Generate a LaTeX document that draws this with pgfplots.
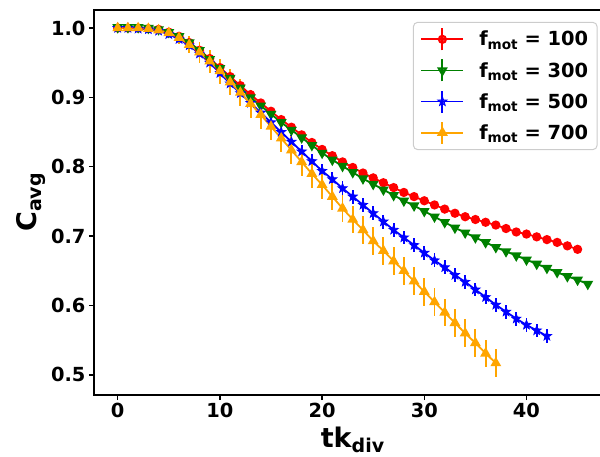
\documentclass[border=0pt]{standalone}
\usepackage{fontspec}
\setmainfont{DejaVu Sans}
\usepackage{pgfplots}
\pgfplotsset{compat=1.18}
\usepackage{pgfplotstable}

\definecolor{mplred}{rgb}{1,0,0}
\definecolor{mplgreen}{rgb}{0,0.5,0}
\definecolor{mplblue}{rgb}{0,0,1}
\definecolor{mplorange}{rgb}{1,0.647,0}

% lowered subscripts for legend entries and axis labels
\newcommand{\lsub}[1]{\raisebox{-3.6pt}{\fontsize{13.6pt}{14pt}\selectfont #1}}
\newcommand{\asub}[1]{\raisebox{-5pt}{\fontsize{19pt}{20pt}\selectfont #1}}

% filled five-pointed star
\pgfdeclareplotmark{fstar}{%
  \pgfpathmoveto{\pgfpointpolar{90}{\pgfplotmarksize}}%
  \pgfpathlineto{\pgfpointpolar{126}{0.42\pgfplotmarksize}}%
  \pgfpathlineto{\pgfpointpolar{162}{\pgfplotmarksize}}%
  \pgfpathlineto{\pgfpointpolar{198}{0.42\pgfplotmarksize}}%
  \pgfpathlineto{\pgfpointpolar{234}{\pgfplotmarksize}}%
  \pgfpathlineto{\pgfpointpolar{270}{0.42\pgfplotmarksize}}%
  \pgfpathlineto{\pgfpointpolar{306}{\pgfplotmarksize}}%
  \pgfpathlineto{\pgfpointpolar{342}{0.42\pgfplotmarksize}}%
  \pgfpathlineto{\pgfpointpolar{18}{\pgfplotmarksize}}%
  \pgfpathlineto{\pgfpointpolar{54}{0.42\pgfplotmarksize}}%
  \pgfpathclose\pgfusepathqfillstroke}

\pgfplotsset{
  ebars/.style={error bars/.cd, y dir=both, y explicit, error mark=none,
    error bar style={/tikz/line width=1.9pt, /tikz/solid}},
}

% f_mot = 100
\pgfplotstableread{
x y e
0 1.000 0.000
1 1.000 0.000
2 1.000 0.000
3 0.999 0.001
4 0.998 0.001
5 0.994 0.001
6 0.988 0.002
7 0.979 0.002
8 0.968 0.002
9 0.956 0.002
10 0.943 0.002
11 0.930 0.002
12 0.917 0.002
13 0.904 0.002
14 0.892 0.002
15 0.880 0.002
16 0.868 0.002
17 0.857 0.002
18 0.846 0.002
19 0.835 0.002
20 0.825 0.002
21 0.816 0.002
22 0.807 0.002
23 0.799 0.002
24 0.791 0.002
25 0.784 0.002
26 0.777 0.002
27 0.770 0.002
28 0.763 0.002
29 0.757 0.002
30 0.751 0.002
31 0.745 0.002
32 0.739 0.002
33 0.733 0.002
34 0.728 0.002
35 0.724 0.002
36 0.720 0.002
37 0.716 0.002
38 0.711 0.002
39 0.706 0.002
40 0.703 0.002
41 0.699 0.002
42 0.695 0.002
43 0.691 0.002
44 0.686 0.002
45 0.681 0.002
}\redtab

% f_mot = 300
\pgfplotstableread{
x y e
0 1.001 0.001
1 1.001 0.001
2 1.001 0.001
3 1.000 0.002
4 0.998 0.002
5 0.994 0.003
6 0.988 0.003
7 0.979 0.003
8 0.968 0.003
9 0.955 0.003
10 0.942 0.003
11 0.928 0.003
12 0.914 0.003
13 0.900 0.003
14 0.888 0.003
15 0.876 0.003
16 0.864 0.003
17 0.853 0.003
18 0.842 0.003
19 0.831 0.003
20 0.820 0.003
21 0.810 0.003
22 0.801 0.003
23 0.792 0.003
24 0.783 0.003
25 0.775 0.003
26 0.767 0.003
27 0.759 0.003
28 0.751 0.003
29 0.744 0.003
30 0.736 0.003
31 0.728 0.003
32 0.720 0.003
33 0.712 0.003
34 0.705 0.003
35 0.698 0.003
36 0.691 0.003
37 0.684 0.003
38 0.678 0.003
39 0.672 0.003
40 0.666 0.003
41 0.660 0.003
42 0.654 0.003
43 0.648 0.003
44 0.642 0.003
45 0.637 0.003
46 0.631 0.003
}\greentab

% f_mot = 500
\pgfplotstableread{
x y e
0 1.000 0.001
1 1.000 0.001
2 0.999 0.001
3 0.998 0.002
4 0.996 0.002
5 0.991 0.003
6 0.984 0.004
7 0.975 0.005
8 0.963 0.006
9 0.950 0.007
10 0.935 0.008
11 0.920 0.008
12 0.906 0.009
13 0.892 0.009
14 0.878 0.009
15 0.864 0.010
16 0.850 0.010
17 0.836 0.010
18 0.822 0.010
19 0.808 0.010
20 0.794 0.010
21 0.782 0.010
22 0.769 0.010
23 0.757 0.010
24 0.745 0.010
25 0.733 0.010
26 0.721 0.010
27 0.709 0.010
28 0.698 0.010
29 0.687 0.010
30 0.676 0.010
31 0.665 0.010
32 0.655 0.010
33 0.644 0.010
34 0.634 0.010
35 0.623 0.010
36 0.612 0.010
37 0.601 0.010
38 0.591 0.010
39 0.581 0.010
40 0.572 0.010
41 0.564 0.010
42 0.556 0.010
}\bluetab

% f_mot = 700
\pgfplotstableread{
x y e
0 1.000 0.001
1 1.000 0.002
2 1.000 0.002
3 0.999 0.003
4 0.997 0.004
5 0.993 0.006
6 0.986 0.009
7 0.976 0.012
8 0.965 0.015
9 0.952 0.017
10 0.938 0.018
11 0.922 0.019
12 0.907 0.019
13 0.891 0.020
14 0.875 0.020
15 0.858 0.020
16 0.841 0.020
17 0.824 0.020
18 0.807 0.020
19 0.790 0.020
20 0.774 0.020
21 0.757 0.020
22 0.740 0.020
23 0.724 0.020
24 0.709 0.020
25 0.693 0.020
26 0.679 0.020
27 0.664 0.020
28 0.650 0.020
29 0.635 0.020
30 0.620 0.020
31 0.605 0.020
32 0.590 0.020
33 0.575 0.020
34 0.560 0.020
35 0.546 0.020
36 0.531 0.020
37 0.517 0.020
}\orangetab

\begin{document}
\begin{tikzpicture}
\begin{axis}[
  name=ax,
  scale only axis,
  width=517pt, height=385pt,
  xmin=-2.32, xmax=48.27,
  ymin=0.471, ymax=1.026,
  axis line style={line width=1.6pt},
  xtick={0,10,20,30,40},
  ytick={0.5,0.6,0.7,0.8,0.9,1.0},
  tick align=outside, tick pos=left,
  major tick length=5pt,
  every tick/.style={black, line width=1.3pt},
  /pgf/number format/assume math mode=true,
  ticklabel style={font=\fontsize{19.4pt}{20pt}\selectfont\bfseries},
  yticklabel style={/pgf/number format/fixed, /pgf/number format/precision=1, /pgf/number format/fixed zerofill},
  xlabel={tk\asub{div}},
  ylabel={C\asub{avg}},
  label style={font=\fontsize{27pt}{28pt}\selectfont\bfseries},
  xlabel style={at={(axis description cs:0.5,-0.1355)}, anchor=base},
  ylabel style={at={(axis description cs:-0.1103,0.5)}, anchor=base},
  legend style={
    at={(0.617,0.969)}, anchor=north west,
    draw=black!20, line width=1pt, rounded corners=4pt,
    fill=white, fill opacity=0.8, text opacity=1,
    font=\fontsize{19.4pt}{20pt}\selectfont\bfseries,
    inner xsep=7pt, inner ysep=5pt,
    row sep=7.3pt,
    /tikz/every odd column/.append style={column sep=13pt},
  },
  legend cell align=left,
  legend image code/.code={
    \draw[#1, mark=none] (21pt,-11pt) -- (21pt,11pt);
    \draw[mark repeat=2, mark phase=2, #1] plot coordinates {(0pt,0pt) (21pt,0pt) (42pt,0pt)};
  },
  every axis plot/.append style={line width=1.8pt},
]
\addplot[color=mplred, mark=*, mark size=3.7pt, mark options={solid}, ebars]
  table[x=x, y=y, y error=e] {\redtab};
\addlegendentry{f\lsub{mot} = 100}
\addplot[color=mplgreen, mark=triangle*, mark size=4.5pt, mark options={solid, rotate=180}, ebars]
  table[x=x, y=y, y error=e] {\greentab};
\addlegendentry{f\lsub{mot} = 300}
\addplot[color=mplblue, mark=fstar, mark size=4.8pt, mark options={solid, line width=0.8pt}, ebars]
  table[x=x, y=y, y error=e] {\bluetab};
\addlegendentry{f\lsub{mot} = 500}
\addplot[color=mplorange, mark=triangle*, mark size=4.5pt, mark options={solid}, ebars]
  table[x=x, y=y, y error=e] {\orangetab};
\addlegendentry{f\lsub{mot} = 700}
\end{axis}
\pgfresetboundingbox
\path[use as bounding box] ([xshift=-94pt,yshift=-61pt]ax.south west) rectangle ([xshift=506pt,yshift=10pt]ax.north west);
\end{tikzpicture}
\end{document}
